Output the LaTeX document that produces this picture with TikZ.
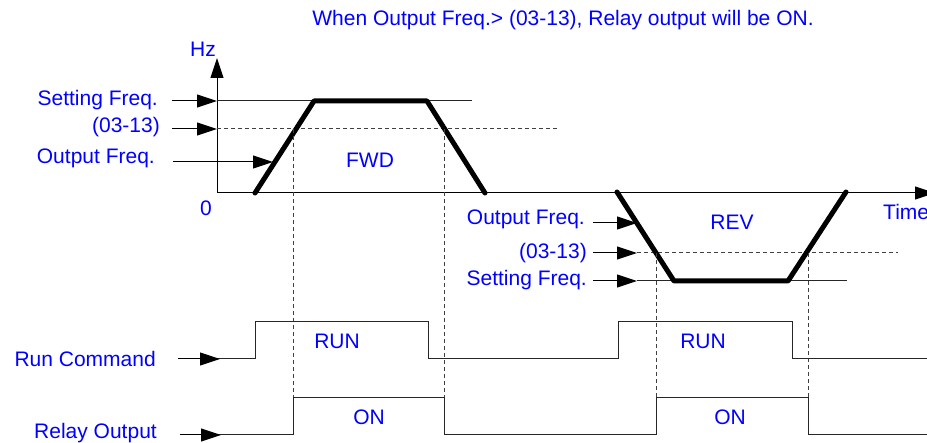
\documentclass[tikz,border=0pt]{standalone}
\usepackage{fontspec}
\setmainfont{Liberation Sans}
\usetikzlibrary{arrows.meta}
\definecolor{lblue}{RGB}{0,0,255}
\tikzset{
 lbl/.style={text=lblue, font=\fontsize{21}{24}\selectfont, inner sep=0pt},
 thinline/.style={draw=black!85, line width=1pt},
 dashline/.style={draw=black!75, line width=1pt, dash pattern=on 4pt off 3pt},
 thickline/.style={draw=black, line width=5pt, line join=round, line cap=round},
 pointer/.style={draw=black, line width=1pt, -{Triangle[length=20pt,width=13pt]}},
 axis/.style={draw=black, line width=1pt, -{Triangle[length=20pt,width=13pt]}},
}
\begin{document}
\begin{tikzpicture}[x=1pt,y=-1pt]
\useasboundingbox (0,0) rectangle (927,443);
\clip (0,0) rectangle (927,443);
% title
\node[lbl] (title) at (563,20) {When Output Freq.> (03-13), Relay output will be ON.};
% axes
\coordinate (O) at (217,193);
\coordinate (ytop) at (217,58);
\coordinate (xend) at (935,193);
\draw[axis] (O) -- (ytop);
\draw[axis] (O) -- (xend);
\node[lbl] (hz) at (203,49) {Hz};
\node[lbl] (zero) at (206,208) {0};
\node[lbl,anchor=west] (time) at (883,212) {Time};
% FWD labels
\node[lbl,anchor=east] (sf1) at (158,100) {Setting Freq.};
\node[lbl,anchor=east] (p1) at (160,127) {(03-13)};
\node[lbl,anchor=east] (of1) at (155,158) {Output Freq.};
\coordinate (sf1a) at (172,101); \coordinate (sf1b) at (217,101); \coordinate (sf1c) at (472,101);
\coordinate (p1a) at (172,129); \coordinate (p1b) at (217,129); \coordinate (p1c) at (558,129);
\coordinate (of1a) at (173,162); \coordinate (of1b) at (273,162);
\draw[thinline] (sf1b) -- (sf1c);
\draw[dashline] (p1b) -- (p1c);
\draw[pointer] (sf1a) -- (sf1b);
\draw[pointer] (p1a) -- (p1b);
\draw[pointer] (of1a) -- (of1b);
% FWD trapezoid
\coordinate (f1) at (255,193); \coordinate (f2) at (314,101);
\coordinate (f3) at (427,101); \coordinate (f4) at (485,193);
\draw[thickline] (f1) -- (f2) -- (f3) -- (f4);
\node[lbl] (fwd) at (370,160) {FWD};
% REV labels
\node[lbl,anchor=east] (of2) at (585,219) {Output Freq.};
\node[lbl,anchor=east] (p2) at (587,253) {(03-13)};
\node[lbl,anchor=east] (sf2) at (587,280) {Setting Freq.};
\coordinate (of2a) at (593,223); \coordinate (of2b) at (637,223);
\coordinate (p2a) at (593,253); \coordinate (p2b) at (637,253); \coordinate (p2c) at (898,253);
\coordinate (sf2a) at (593,281); \coordinate (sf2b) at (637,281); \coordinate (sf2c) at (847,281);
\draw[thinline] (sf2b) -- (sf2c);
\draw[dashline] (p2b) -- (p2c);
\draw[pointer] (of2a) -- (of2b);
\draw[pointer] (p2a) -- (p2b);
\draw[pointer] (sf2a) -- (sf2b);
% REV trapezoid
\coordinate (r1) at (617,192); \coordinate (r2) at (674,281);
\coordinate (r3) at (788,281); \coordinate (r4) at (846,192);
\draw[thickline] (r1) -- (r2) -- (r3) -- (r4);
\node[lbl] (rev) at (732,222) {REV};
% dashed verticals
\coordinate (d1t) at (293,129); \coordinate (d1b) at (293,398);
\coordinate (d2t) at (444,129); \coordinate (d2b) at (444,398);
\coordinate (d3t) at (656,253); \coordinate (d3b) at (656,398);
\coordinate (d4t) at (808,253); \coordinate (d4b) at (808,398);
\draw[dashline] (d1t) -- (d1b);
\draw[dashline] (d2t) -- (d2b);
\draw[dashline] (d3t) -- (d3b);
\draw[dashline] (d4t) -- (d4b);
% Run command
\node[lbl,anchor=east] (runcmd) at (156,359) {Run Command};
\coordinate (rc0) at (178,359); \coordinate (rctip) at (220,359);
\draw[thinline] (rc0) -- (255,359) -- (255,322) -- (428,322) -- (428,359) -- (618,359) -- (618,322) -- (792,322) -- (792,359) -- (927,359);
\draw[pointer] (rc0) -- (rctip);
\node[lbl] (run1) at (337,341) {RUN};
\node[lbl] (run2) at (703,341) {RUN};
% Relay output
\node[lbl,anchor=east] (relay) at (157,433) {Relay Output};
\coordinate (ro0) at (180,435); \coordinate (rotip) at (221,435);
\draw[thinline] (ro0) -- (d1b |- ro0) -- (d1b) -- (d2b) -- (d2b |- ro0) -- (d3b |- ro0) -- (d3b) -- (d4b) -- (d4b |- ro0) -- (927,435);
\draw[pointer] (ro0) -- (rotip);
\node[lbl] (on1) at (369,417) {ON};
\node[lbl] (on2) at (730,417) {ON};
\end{tikzpicture}
\end{document}
